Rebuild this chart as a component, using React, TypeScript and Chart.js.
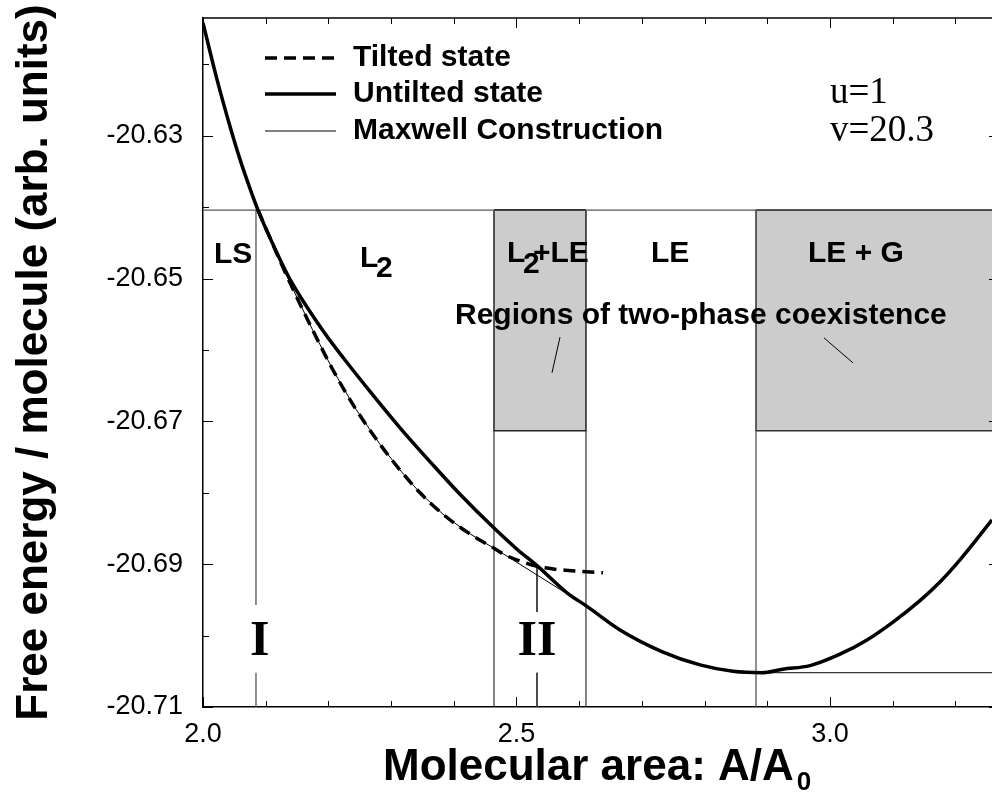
import React, { useEffect, useRef } from "react";
import { Chart, registerables } from "chart.js";

Chart.register(...registerables);

// ---------- data ----------
const untiltedX = [2.0, 2.0223, 2.0431, 2.059, 2.075, 2.0877, 2.1148, 2.1388, 2.1914, 2.2265, 2.2663, 2.3142, 2.3668, 2.4099, 2.4625, 2.5008, 2.5327, 2.5805, 2.6124, 2.6651, 2.7337, 2.7927, 2.8453, 2.8915, 2.925, 2.9681, 3.0159, 3.059, 3.1005, 3.1435, 3.1754, 3.2073, 3.2584];
const untiltedY = [-20.6142, -20.6221, -20.6287, -20.6333, -20.6374, -20.6404, -20.6458, -20.6501, -20.6573, -20.6614, -20.6658, -20.6709, -20.6761, -20.6802, -20.6848, -20.6879, -20.6902, -20.694, -20.6959, -20.6992, -20.7023, -20.7041, -20.705, -20.7052, -20.7047, -20.7042, -20.7026, -20.7006, -20.6981, -20.6951, -20.6925, -20.6894, -20.6838];

const tiltedX = [2.0877, 2.1148, 2.1388, 2.1754, 2.2073, 2.2424, 2.2823, 2.3142, 2.3461, 2.3828, 2.4211, 2.4609, 2.4817, 2.5104, 2.5327, 2.5614, 2.6013, 2.638];
const tiltedY = [-20.6404, -20.6459, -20.6506, -20.6573, -20.6628, -20.6681, -20.6732, -20.6768, -20.68, -20.683, -20.6855, -20.6876, -20.6887, -20.6897, -20.6903, -20.6907, -20.691, -20.6912];

const maxwellX = [2.0877, 2.1148, 2.1388, 2.1754, 2.2073, 2.2424, 2.2823, 2.3142, 2.3461, 2.3828, 2.4211, 2.4609, 2.4817, 2.6124, 2.7, 2.8915, 3.2584];
const maxwellY = [-20.6404, -20.6459, -20.6506, -20.6573, -20.6628, -20.6681, -20.6732, -20.6768, -20.68, -20.683, -20.6855, -20.6876, -20.6887, -20.6959, null, -20.7052, -20.7052];

const coexTopLevel = -20.6404;
const boxBottomLevel = -20.6713;
const boxL2LE = [2.4641, 2.6108];
const boxLEG = [2.882, 3.32];
const lsBoundaryX = 2.0845;
const pointIIX = 2.5327;
const pointIITop = -20.6903;
const markerGapTop = [-20.6957, -20.6967];
const markerGapBottom = -20.7052;

const pointer1X = [2.5694, 2.5566];
const pointer1Y = [-20.6582, -20.6632];
const pointer2X = [2.9904, 3.0367];
const pointer2Y = [-20.6583, -20.6618];

const xMin = 2.0;
const xMax = 3.2584;
const yMin = -20.71;
const yMax = -20.6135;
const xTickLabels = [2.0, 2.5, 3.0];
const yTickLabels = [-20.71, -20.69, -20.67, -20.65, -20.63];
const xMinorTicks = [2.0, 2.1, 2.2, 2.3, 2.4, 2.5, 2.6, 2.7, 2.8, 2.9, 3.0, 3.1, 3.2];
const yMinorTicks = [-20.71, -20.7, -20.69, -20.68, -20.67, -20.66, -20.65, -20.64, -20.63, -20.62];

const legendLabels = ["Tilted state", "Untilted state", "Maxwell Construction"];

// ---------- helpers ----------
const pts = (xs: number[], ys: (number | null)[]) => xs.map((x, i) => ({ x, y: ys[i] }));
const SANS = '"Liberation Sans", Arial, Helvetica, sans-serif';
const SERIF = '"Liberation Serif", "Times New Roman", serif';

const lineDs = (data: any[], color: string, width: number, order: number, extra: any = {}) => ({
  type: "line",
  data,
  borderColor: color,
  borderWidth: width,
  pointRadius: 0,
  fill: false,
  tension: 0,
  order,
  ...extra,
});

const zeroPad = (s: any) => {
  s.paddingTop = 0;
  s.paddingBottom = 0;
  s.paddingLeft = 0;
  s.paddingRight = 0;
};

const decorPlugin = {
  id: "decor",
  afterDraw(chart: any) {
    const { ctx, chartArea: a, scales } = chart;
    const x = scales.x;
    const y = scales.y;
    const P = (xv: number, yv: number) => [x.getPixelForValue(xv), y.getPixelForValue(yv)];
    ctx.save();

    // top frame
    ctx.strokeStyle = "#000";
    ctx.lineWidth = 1.5;
    ctx.beginPath();
    ctx.moveTo(a.left, a.top);
    ctx.lineTo(a.right, a.top);
    ctx.stroke();

    // inward ticks
    ctx.lineWidth = 1;
    const isMajorX = (v: number) => xTickLabels.some((t) => Math.abs(t - v) < 1e-6);
    const isMajorY = (v: number) => yTickLabels.some((t) => Math.abs(t - v) < 1e-6);
    ctx.beginPath();
    for (const v of xMinorTicks) {
      const px = Math.round(x.getPixelForValue(v)) + 0.5;
      const len = isMajorX(v) ? 10 : 6;
      ctx.moveTo(px, a.bottom);
      ctx.lineTo(px, a.bottom - len);
      ctx.moveTo(px, a.top);
      ctx.lineTo(px, a.top + len);
    }
    for (const v of yMinorTicks) {
      const py = Math.round(y.getPixelForValue(v)) + 0.5;
      if (py < a.top || py > a.bottom + 1) continue;
      const len = isMajorY(v) ? 10 : 6;
      ctx.moveTo(a.left, py);
      ctx.lineTo(a.left + len, py);
      if (isMajorY(v)) {
        ctx.moveTo(a.right, py);
        ctx.lineTo(a.right - 3, py);
      }
    }
    ctx.stroke();

    // axis titles
    ctx.fillStyle = "#000";
    ctx.font = `bold 44px ${SANS}`;
    ctx.textBaseline = "alphabetic";
    ctx.textAlign = "left";
    const xt = "Molecular area: A/A";
    ctx.fillText(xt, 383, 780);
    const w = ctx.measureText(xt).width;
    ctx.font = `bold 26px ${SANS}`;
    ctx.fillText("0", 383 + w + 3, 790);

    ctx.save();
    ctx.translate(35, (a.top + a.bottom) / 2);
    ctx.rotate(-Math.PI / 2);
    ctx.font = `bold 44px ${SANS}`;
    ctx.textAlign = "center";
    ctx.textBaseline = "middle";
    ctx.fillText("Free energy / molecule (arb. units)", 0, 0);
    ctx.restore();

    // region labels
    ctx.font = `bold 30px ${SANS}`;
    ctx.textAlign = "left";
    ctx.textBaseline = "alphabetic";
    const txt = (s: string, xv: number, yv: number, dx = 0, dy = 0) => {
      const [px, py] = P(xv, yv);
      ctx.fillText(s, px + dx, py + dy);
    };
    txt("LS", 2.0175, -20.6478);
    txt("L", 2.2504, -20.6484);
    txt("2", 2.2504, -20.6484, 16, 10);
    txt("L", 2.4848, -20.6477);
    txt("2", 2.4848, -20.6477, 16, 11);
    txt("+LE", 2.4848, -20.6477, 26, 0);
    txt("LE", 2.7145, -20.6477);
    txt("LE + G", 2.9649, -20.6477);
    txt("Regions of two-phase coexistence", 2.4019, -20.6563);

    ctx.font = `bold 50px ${SERIF}`;
    ctx.textAlign = "center";
    txt("I", lsBoundaryX + 0.006, -20.7027);
    txt("II", pointIIX, -20.7027);

    ctx.font = `37px ${SERIF}`;
    ctx.textAlign = "left";
    ctx.fillText("u=1", 830, 103);
    ctx.fillText("v=20.3", 830, 141);

    // legend
    const ds = chart.data.datasets;
    const rows = [58, 94, 131];
    for (let i = 0; i < 3; i++) {
      const d = ds[i];
      ctx.strokeStyle = d.borderColor;
      ctx.lineWidth = d.borderWidth;
      ctx.setLineDash(d.borderDash || []);
      ctx.beginPath();
      ctx.moveTo(265, rows[i]);
      ctx.lineTo(336, rows[i]);
      ctx.stroke();
      ctx.setLineDash([]);
      ctx.fillStyle = "#000";
      ctx.font = `bold 30px ${SANS}`;
      ctx.textBaseline = "middle";
      ctx.fillText(legendLabels[i], 353, rows[i]);
    }
    ctx.restore();
  },
};

export default function App() {
  const ref = useRef<HTMLCanvasElement | null>(null);

  useEffect(() => {
    if (!ref.current) return;
    const boxData = (b: number[]) => [
      { x: b[0], y: coexTopLevel },
      { x: b[0], y: boxBottomLevel },
      { x: b[1], y: boxBottomLevel },
      { x: b[1], y: coexTopLevel },
    ];
    const datasets: any[] = [
      lineDs(pts(tiltedX, tiltedY), "#000", 3.5, 0, { label: legendLabels[0], borderDash: [12, 7], cubicInterpolationMode: "monotone" }),
      lineDs(pts(untiltedX, untiltedY), "#000", 3.5, 1, { label: legendLabels[1], cubicInterpolationMode: "monotone" }),
      lineDs(pts(maxwellX, maxwellY), "#000", 1, 2, { label: legendLabels[2] }),
      lineDs([{ x: xMin, y: coexTopLevel }, { x: xMax, y: coexTopLevel }], "#555", 1.3, 5),
      lineDs([
        { x: lsBoundaryX, y: coexTopLevel }, { x: lsBoundaryX, y: markerGapTop[0] },
        { x: lsBoundaryX, y: null },
        { x: lsBoundaryX, y: markerGapBottom }, { x: lsBoundaryX, y: yMin },
      ], "#555", 1.3, 5),
      lineDs([
        { x: pointIIX, y: pointIITop }, { x: pointIIX, y: markerGapTop[1] },
        { x: pointIIX, y: null },
        { x: pointIIX, y: markerGapBottom }, { x: pointIIX, y: yMin },
      ], "#333", 1, 5),
      lineDs([{ x: boxL2LE[0], y: boxBottomLevel }, { x: boxL2LE[0], y: yMin }], "#333", 1.2, 5),
      lineDs([{ x: boxL2LE[1], y: boxBottomLevel }, { x: boxL2LE[1], y: yMin }], "#333", 1.2, 5),
      lineDs([{ x: boxLEG[0], y: boxBottomLevel }, { x: boxLEG[0], y: yMin }], "#555", 1.3, 5),
      lineDs(pts(pointer1X, pointer1Y), "#000", 1, 4),
      lineDs(pts(pointer2X, pointer2Y), "#000", 1, 4),
      lineDs(boxData(boxL2LE), "#222", 1.5, 20, { fill: { value: coexTopLevel }, backgroundColor: "#cccccc" }),
      lineDs(boxData(boxLEG), "#333", 1.5, 20, { fill: { value: coexTopLevel }, backgroundColor: "#cccccc" }),
      lineDs([{ x: boxL2LE[0], y: coexTopLevel }, { x: boxL2LE[1], y: coexTopLevel }], "#111", 2, 6),
      lineDs([{ x: boxLEG[0], y: coexTopLevel }, { x: boxLEG[1], y: coexTopLevel }], "#222", 1.8, 6),
    ];

    const tickFont = { family: SANS, size: 27 };
    const chart = new Chart(ref.current, {
      type: "line",
      data: { datasets },
      options: {
        responsive: false,
        animation: false,
        devicePixelRatio: 1,
        layout: { padding: { top: 18, left: 0, right: 0, bottom: 0 } },
        plugins: { legend: { display: false }, tooltip: { enabled: false } },
        scales: {
          x: {
            type: "linear",
            position: "bottom",
            min: xMin,
            max: xMax,
            afterBuildTicks: (s: any) => {
              s.ticks = xTickLabels.map((v) => ({ value: v }));
            },
            afterFit: (s: any) => {
              s.height = 90;
              zeroPad(s);
            },
            grid: { display: false, drawTicks: false },
            border: { display: true, color: "#000", width: 1.5 },
            ticks: {
              color: "#000",
              font: tickFont,
              padding: 11,
              maxRotation: 0,
              autoSkip: false,
              callback: (v: any) => Number(v).toFixed(1),
            },
          },
          y: {
            type: "linear",
            position: "left",
            min: yMin,
            max: yMax,
            afterBuildTicks: (s: any) => {
              s.ticks = yTickLabels.map((v) => ({ value: v }));
            },
            afterFit: (s: any) => {
              s.width = 203;
              zeroPad(s);
            },
            grid: { display: false, drawTicks: false },
            border: { display: true, color: "#000", width: 1.5 },
            ticks: {
              color: "#000",
              font: tickFont,
              padding: 20,
              autoSkip: false,
              callback: (v: any) => Number(v).toFixed(2),
            },
          },
        },
      } as any,
      plugins: [decorPlugin],
    });
    return () => chart.destroy();
  }, []);

  return (
    <div style={{ position: "absolute", left: 0, top: 0, width: 992, height: 797, background: "#fff" }}>
      <canvas ref={ref} width={992} height={797} style={{ display: "block" }} />
    </div>
  );
}
